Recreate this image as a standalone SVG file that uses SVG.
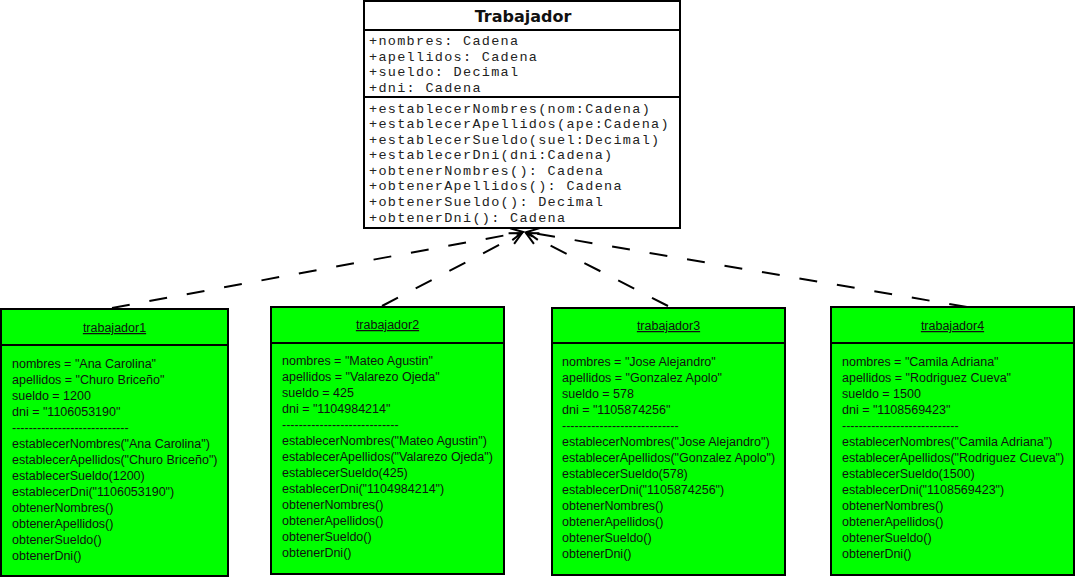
<svg xmlns="http://www.w3.org/2000/svg" width="1077" height="579" viewBox="0 0 1077 579">
<defs>
<style>
.cls{fill:#fff;stroke:#000;stroke-width:2}
.sep{stroke:#000;stroke-width:2}
.mono{font-family:"Liberation Mono","Courier New",monospace;font-size:13.5px;letter-spacing:1.3px;fill:#222}
.title{font-family:"DejaVu Sans",Verdana,sans-serif;font-size:16px;font-weight:bold;fill:#111;text-anchor:middle}
.obj{fill:#00ff00;stroke:#000;stroke-width:2}
.t{font-family:"Liberation Sans",Arial,sans-serif;font-size:12.5px;fill:#111}
.h{text-anchor:middle;text-decoration:underline}
.dep{fill:none;stroke:#000;stroke-width:2;stroke-dasharray:18 20}
</style>
<marker id="arr" markerUnits="userSpaceOnUse" markerWidth="16" markerHeight="16" refX="14" refY="8" orient="auto">
<path d="M2,2 L14,8 L2,14" fill="none" stroke="#000" stroke-width="2"/>
</marker>
</defs>
<rect width="1077" height="579" fill="#fff"/>

<g id="connectors">
<line class="dep" x1="112" y1="308" x2="523" y2="232" marker-end="url(#arr)"/>
<line class="dep" x1="382" y1="306" x2="522" y2="233" marker-end="url(#arr)"/>
<line class="dep" x1="668" y1="306" x2="526" y2="233" marker-end="url(#arr)"/>
<line class="dep" x1="967" y1="307" x2="527" y2="232" marker-end="url(#arr)"/>
</g>

<g id="Trabajador">
<rect class="cls" x="364" y="1" width="316" height="227"/>
<line class="sep" x1="364" y1="30" x2="680" y2="30"/>
<line class="sep" x1="364" y1="97" x2="680" y2="97"/>
<text class="title" x="523" y="22">Trabajador</text>
<text class="mono" x="369" y="45">+nombres: Cadena</text>
<text class="mono" x="369" y="61">+apellidos: Cadena</text>
<text class="mono" x="369" y="76">+sueldo: Decimal</text>
<text class="mono" x="369" y="92">+dni: Cadena</text>
<text class="mono" x="369" y="113">+establecerNombres(nom:Cadena)</text>
<text class="mono" x="369" y="128">+establecerApellidos(ape:Cadena)</text>
<text class="mono" x="369" y="144">+establecerSueldo(suel:Decimal)</text>
<text class="mono" x="369" y="159">+establecerDni(dni:Cadena)</text>
<text class="mono" x="369" y="175">+obtenerNombres(): Cadena</text>
<text class="mono" x="369" y="190">+obtenerApellidos(): Cadena</text>
<text class="mono" x="369" y="206">+obtenerSueldo(): Decimal</text>
<text class="mono" x="369" y="222">+obtenerDni(): Cadena</text>
</g>

<g id="trabajador1">
<rect class="obj" x="1" y="309" width="227" height="267"/>
<line class="sep" x1="1" y1="345" x2="228" y2="345"/>
<text class="t h" x="114.5" y="332">trabajador1</text>
<text class="t" x="12" y="368">nombres = "Ana Carolina"</text>
<text class="t" x="12" y="384">apellidos = "Churo Briceño"</text>
<text class="t" x="12" y="400">sueldo = 1200</text>
<text class="t" x="12" y="416">dni = "1106053190"</text>
<text class="t" x="12" y="432">----------------------------</text>
<text class="t" x="12" y="448">establecerNombres("Ana Carolina")</text>
<text class="t" x="12" y="464">establecerApellidos("Churo Briceño")</text>
<text class="t" x="12" y="480">establecerSueldo(1200)</text>
<text class="t" x="12" y="496">establecerDni("1106053190")</text>
<text class="t" x="12" y="512">obtenerNombres()</text>
<text class="t" x="12" y="528">obtenerApellidos()</text>
<text class="t" x="12" y="544">obtenerSueldo()</text>
<text class="t" x="12" y="560">obtenerDni()</text>
</g>

<g id="trabajador2">
<rect class="obj" x="271" y="307" width="233" height="267"/>
<line class="sep" x1="271" y1="343" x2="504" y2="343"/>
<text class="t h" x="387.5" y="329">trabajador2</text>
<text class="t" x="282" y="365">nombres = "Mateo Agustin"</text>
<text class="t" x="282" y="381">apellidos = "Valarezo Ojeda"</text>
<text class="t" x="282" y="397">sueldo = 425</text>
<text class="t" x="282" y="413">dni = "1104984214"</text>
<text class="t" x="282" y="429">----------------------------</text>
<text class="t" x="282" y="445">establecerNombres("Mateo Agustin")</text>
<text class="t" x="282" y="461">establecerApellidos("Valarezo Ojeda")</text>
<text class="t" x="282" y="477">establecerSueldo(425)</text>
<text class="t" x="282" y="493">establecerDni("1104984214")</text>
<text class="t" x="282" y="509">obtenerNombres()</text>
<text class="t" x="282" y="525">obtenerApellidos()</text>
<text class="t" x="282" y="541">obtenerSueldo()</text>
<text class="t" x="282" y="557">obtenerDni()</text>
</g>

<g id="trabajador3">
<rect class="obj" x="552" y="308" width="233" height="267"/>
<line class="sep" x1="552" y1="343" x2="785" y2="343"/>
<text class="t h" x="668.5" y="330">trabajador3</text>
<text class="t" x="562" y="366">nombres = "Jose Alejandro"</text>
<text class="t" x="562" y="382">apellidos = "Gonzalez Apolo"</text>
<text class="t" x="562" y="398">sueldo = 578</text>
<text class="t" x="562" y="414">dni = "1105874256"</text>
<text class="t" x="562" y="430">----------------------------</text>
<text class="t" x="562" y="446">establecerNombres("Jose Alejandro")</text>
<text class="t" x="562" y="462">establecerApellidos("Gonzalez Apolo")</text>
<text class="t" x="562" y="478">establecerSueldo(578)</text>
<text class="t" x="562" y="494">establecerDni("1105874256")</text>
<text class="t" x="562" y="510">obtenerNombres()</text>
<text class="t" x="562" y="526">obtenerApellidos()</text>
<text class="t" x="562" y="542">obtenerSueldo()</text>
<text class="t" x="562" y="558">obtenerDni()</text>
</g>

<g id="trabajador4">
<rect class="obj" x="831" y="307" width="243" height="268"/>
<line class="sep" x1="831" y1="343" x2="1074" y2="343"/>
<text class="t h" x="952.5" y="330">trabajador4</text>
<text class="t" x="842" y="366">nombres = "Camila Adriana"</text>
<text class="t" x="842" y="382">apellidos = "Rodriguez Cueva"</text>
<text class="t" x="842" y="398">sueldo = 1500</text>
<text class="t" x="842" y="414">dni = "1108569423"</text>
<text class="t" x="842" y="430">----------------------------</text>
<text class="t" x="842" y="446">establecerNombres("Camila Adriana")</text>
<text class="t" x="842" y="462">establecerApellidos("Rodriguez Cueva")</text>
<text class="t" x="842" y="478">establecerSueldo(1500)</text>
<text class="t" x="842" y="494">establecerDni("1108569423")</text>
<text class="t" x="842" y="510">obtenerNombres()</text>
<text class="t" x="842" y="526">obtenerApellidos()</text>
<text class="t" x="842" y="542">obtenerSueldo()</text>
<text class="t" x="842" y="558">obtenerDni()</text>
</g>
</svg>
